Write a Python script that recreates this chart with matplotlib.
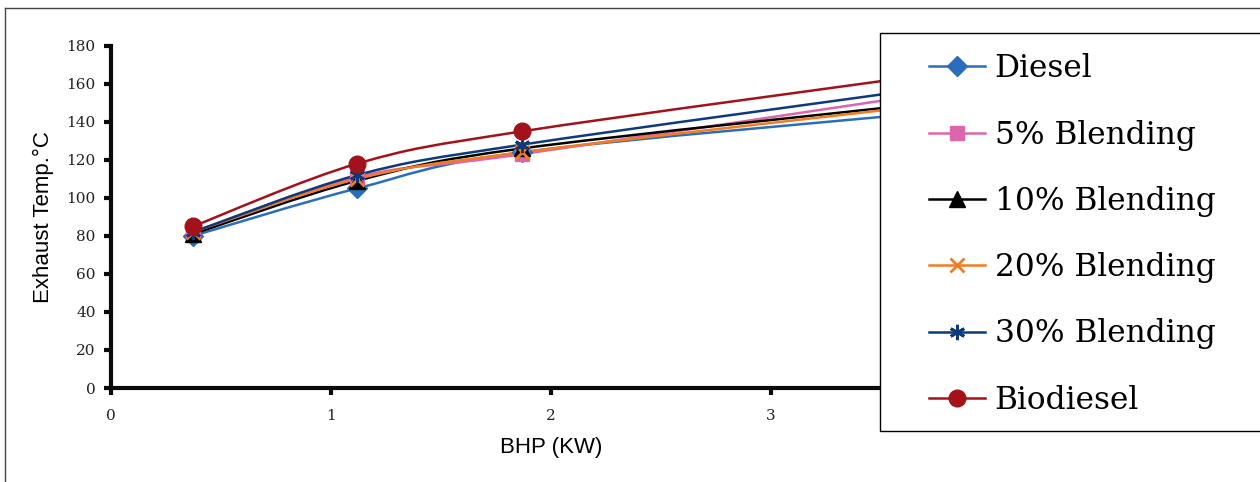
import matplotlib
matplotlib.use("Agg")
from matplotlib import pyplot as plt
from matplotlib.path import Path
from matplotlib.patches import PathPatch, Rectangle
from matplotlib.lines import Line2D
import numpy as np

# BHP in kW (0.5, 1.5, 2.5, 5 hp)
bhp = [0.373, 1.12, 1.87, 3.73]

diesel = [80, 105, 124, 145]
blend5 = [82, 111, 123, 155]
blend10 = [81, 109, 126, 150]
blend20 = [82, 110, 124, 149]
blend30 = [82, 112, 128, 158]
biodiesel = [85, 118, 135, 165]

labels = ["Diesel", "5% Blending", "10% Blending", "20% Blending",
          "30% Blending", "Biodiesel"]
series = [diesel, blend5, blend10, blend20, blend30, biodiesel]
colors = ["#2a6ebb", "#dd66aa", "#000000", "#f47c20", "#0d3a7a", "#a3121a"]
markers = ["D", "s", "^", "x", (6, 2, 0), "o"]
msizes = [10, 10, 11, 10, 11, 12]


def smooth_path(xs, ys):
    # excel style smoothed line as cubic bezier segments
    p = np.column_stack([xs, ys]).astype(float)
    n = len(p)
    verts = [p[0]]
    codes = [Path.MOVETO]
    for i in range(n - 1):
        prev = p[i - 1] if i > 0 else p[i]
        nxt = p[i + 2] if i + 2 < n else p[i + 1]
        c1 = p[i] + (p[i + 1] - prev) / 6
        c2 = p[i + 1] - (nxt - p[i]) / 6
        verts += [c1, c2, p[i + 1]]
        codes += [Path.CURVE4] * 3
    return Path(verts, codes)


fig = plt.figure(figsize=(12.6, 4.82), dpi=100)
ax = fig.add_axes([111 / 1260, 94 / 482, 880 / 1260, 342.3 / 482])

handles = []
for ys, lab, c, m, ms in zip(series, labels, colors, markers, msizes):
    ax.add_patch(PathPatch(smooth_path(bhp, ys), facecolor="none",
                           edgecolor=c, lw=1.8, zorder=2))
    ax.plot(bhp, ys, ls="none", marker=m, ms=ms, color=c, mec=c,
            mew=2 if m in ("x", (6, 2, 0)) else 1, zorder=3)
    handles.append(Line2D([], [], color=c, lw=1.8, marker=m, ms=ms, mec=c,
                          mew=2 if m in ("x", (6, 2, 0)) else 1))

ax.set_xlim(0, 4)
ax.set_ylim(0, 180)
ax.set_xticks([0, 1, 2, 3, 4])
ax.set_yticks(range(0, 181, 20))
for s in ["top", "right"]:
    ax.spines[s].set_visible(False)
for s in ["left", "bottom"]:
    ax.spines[s].set_linewidth(3)
    ax.spines[s].set_color("#0a0a0a")
ax.tick_params(axis="both", length=5, width=3, color="#0a0a0a",
               labelsize=11, labelcolor="#222222")
ax.tick_params(axis="y", pad=6)
ax.tick_params(axis="x", pad=10)
for t in ax.get_xticklabels() + ax.get_yticklabels():
    t.set_family("DejaVu Serif")

ax.set_xlabel("BHP (KW)", fontsize=16, family="Liberation Sans", labelpad=10)
ax.set_ylabel("Exhaust Temp.\u00b0C", fontsize=16, family="Liberation Sans",
              labelpad=9)

# outer chart border (cropped on right and bottom)
fig.add_artist(Line2D([5 / 1260, 5 / 1260], [0, 1 - 8 / 482],
                      color="#444444", lw=1))
fig.add_artist(Line2D([5 / 1260, 1], [1 - 8 / 482, 1 - 8 / 482],
                      color="#444444", lw=1))

# legend box, runs past the right edge like the reference
fig.add_artist(Rectangle((880 / 1260, 1 - 431 / 482), 0.35, 398 / 482,
                         transform=fig.transFigure, facecolor="white",
                         edgecolor="black", lw=1, zorder=4))
leg = fig.legend(handles, labels, loc="center left",
                 bbox_to_anchor=(929 / 1260, 1 - 234.5 / 482),
                 frameon=False, borderpad=0, borderaxespad=0,
                 prop={"family": "DejaVu Serif", "size": 22.5},
                 handlelength=1.8, handletextpad=0.3, labelspacing=1.13)
leg.set_zorder(5)

plt.savefig("out.png", dpi=100)
